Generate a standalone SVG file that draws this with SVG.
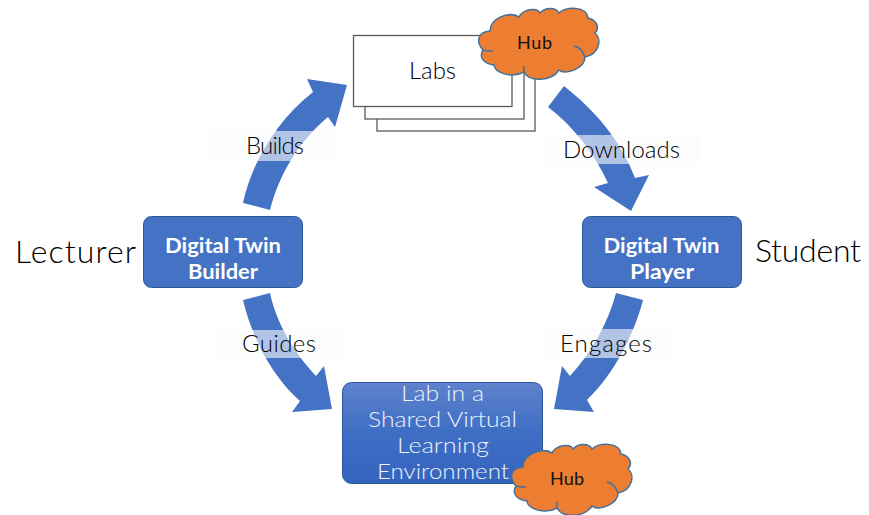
<svg xmlns="http://www.w3.org/2000/svg" width="869" height="515" viewBox="0 0 869 515">
<defs>
<linearGradient id="lg" x1="0" y1="0" x2="0" y2="1"><stop offset="0" stop-color="#5f82cc"/><stop offset="0.5" stop-color="#3e6ec4"/><stop offset="1" stop-color="#3564bd"/></linearGradient>
<g id="cloud">
<path d="M4 42C-3 34 -2 24 11 23C11 10 30 3 40 9C44 1 58 -1 61 5C66 -1 77 -1 80 5C86 -2 108 -2 109 10C118 12 121 20 116 25C123 30 121 46 106 49C106 60 86 68 80 62C72 74 50 74 45 64C34 70 16 66 15 57C6 56 -1 50 4 42Z"/>
<path fill="none" d="M4 42C7 43 11 43 14 43M95 38C100 39 104 43 106 49M45 64C45 62 45 60 44.500 58"/>
</g>
</defs>
<style>
.arrow{fill:#4472c4}
.band{fill:#fbfbfb;fill-opacity:.6}
.sheet{fill:#fff;stroke:#595959;stroke-width:1.3}
.box{fill:#4472c4;stroke:#2f5597;stroke-width:1}
.cl{fill:#ed7d31;stroke:#41719c;stroke-width:1.5}
text{font-family:"Lato","Open Sans","Liberation Sans",sans-serif;text-anchor:middle}
.lab{font-size:24px;fill:#000;font-weight:300}
.nd{font-size:21.500px;fill:#fff;font-weight:700}
.lt{font-size:21.500px;fill:#eef2fa;font-weight:300}
.side{font-size:32px;fill:#000;font-weight:300}
.hub{font-size:18px;fill:#111}
</style>
<rect width="869" height="515" fill="#fff"/>
<g id="connectors">
<path class="arrow" d="M243 203C251 165 275 122 313 92L307 79L347 85L335 127L328 117C298 142 279 175 270 210Z"/>
<path class="arrow" d="M564 86C593 109 620 138 635 178L649 175L631 211L594 187L608 183C594 153 574 127 548 107Z"/>
<path class="arrow" d="M243 300C252 338 272 376 300 401L292 412L332 409L324 366L316 376C294 352 277 325 270 293Z"/>
<path class="arrow" d="M643 300C634 334 615 373 587 400L594 412L554 409L562 366L570 376C592 352 608 323 616 293Z"/>
</g>
<g id="label-builds"><rect class="band" x="210" y="131" width="128" height="30"/><text class="lab" x="275" y="154" textLength="58">Builds</text></g>
<g id="label-downloads"><rect class="band" x="543" y="135" width="157" height="29"/><text class="lab" x="621.500" y="158" textLength="117">Downloads</text></g>
<g id="label-guides"><rect class="band" x="214" y="330" width="128" height="28"/><text class="lab" x="279" y="352" textLength="74">Guides</text></g>
<g id="label-engages"><rect class="band" x="543" y="329" width="127" height="29"/><text class="lab" x="606" y="352" textLength="92">Engages</text></g>
<g id="labs">
<rect class="sheet" x="377" y="60" width="158" height="71"/>
<rect class="sheet" x="365" y="48" width="159" height="71"/>
<rect class="sheet" x="353.500" y="35.500" width="158.500" height="71"/>
<text class="lab" x="432.500" y="79" textLength="47">Labs</text>
</g>
<g id="hub-top"><use href="#cloud" class="cl" transform="translate(479 8)"/><text class="hub" x="534.500" y="49" textLength="35">Hub</text></g>
<g id="builder"><rect class="box" x="143.500" y="216.500" width="159" height="71" rx="8"/><text class="nd" x="223" y="253" textLength="116" lengthAdjust="spacingAndGlyphs">Digital Twin</text><text class="nd" x="223" y="279" textLength="70" lengthAdjust="spacingAndGlyphs">Builder</text></g>
<g id="player"><rect class="box" x="582.500" y="216.500" width="159" height="71" rx="8"/><text class="nd" x="661.500" y="253" textLength="116" lengthAdjust="spacingAndGlyphs">Digital Twin</text><text class="nd" x="662" y="279" textLength="64" lengthAdjust="spacingAndGlyphs">Player</text></g>
<g id="shared-lab"><rect x="342.500" y="382.500" width="200" height="101" rx="9" fill="url(#lg)" stroke="#2f5597"/>
<text class="lt" x="442.500" y="401" textLength="83" lengthAdjust="spacingAndGlyphs">Lab in a</text><text class="lt" x="442.500" y="427" textLength="149" lengthAdjust="spacingAndGlyphs">Shared Virtual</text><text class="lt" x="443" y="453" textLength="92" lengthAdjust="spacingAndGlyphs">Learning</text><text class="lt" x="443" y="479" textLength="132" lengthAdjust="spacingAndGlyphs">Environment</text></g>
<g id="hub-bottom"><use href="#cloud" class="cl" transform="translate(512 444)"/><text class="hub" x="567" y="485" textLength="34">Hub</text></g>
<text class="side" x="75.500" y="263" textLength="121">Lecturer</text>
<text class="side" x="808" y="262" textLength="106">Student</text>
</svg>
